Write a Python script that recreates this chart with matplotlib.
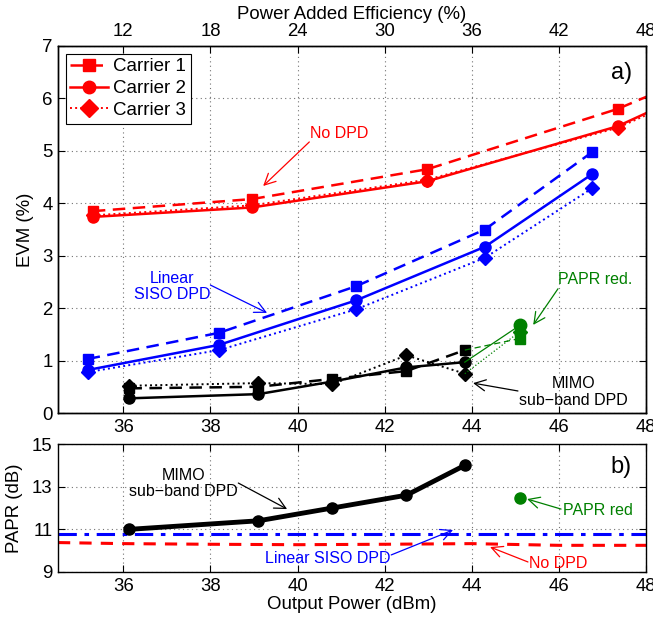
import matplotlib
matplotlib.use("Agg")
import matplotlib.pyplot as plt
from matplotlib.lines import Line2D

plt.rcParams["font.family"] = ["Liberation Sans", "DejaVu Sans"]

# ---- EVM vs output power (top panel) ----
p_nodpd = [35.3, 38.95, 42.98, 47.35, 49.0]
evm_nodpd_c1 = [3.85, 4.08, 4.65, 5.80, 6.38]
evm_nodpd_c2 = [3.74, 3.92, 4.42, 5.47, 6.10]
evm_nodpd_c3 = [3.77, 3.96, 4.45, 5.44, 6.05]

p_siso = [35.18, 38.2, 41.35, 44.3, 46.77]
evm_siso_c1 = [1.03, 1.53, 2.42, 3.50, 4.98]
evm_siso_c2 = [0.82, 1.30, 2.15, 3.17, 4.56]
evm_siso_c3 = [0.78, 1.20, 1.98, 2.96, 4.29]

p_mimo = [36.14, 39.1, 40.8, 42.5, 43.84]
evm_mimo_c1 = [0.47, 0.50, 0.65, 0.80, 1.20]
evm_mimo_c2 = [0.28, 0.36, 0.60, 0.87, 0.97]
evm_mimo_c3 = [0.52, 0.57, 0.55, 1.10, 0.75]

# PAPR reduction point, joined to the last MIMO point
p_papr = [43.84, 45.1]
evm_papr_c1 = [1.20, 1.42]
evm_papr_c2 = [0.97, 1.67]
evm_papr_c3 = [0.75, 1.55]

# ---- PAPR vs output power (bottom panel) ----
papr_mimo = [11.0, 11.4, 12.0, 12.6, 14.0]
p_papr_red = [45.1]
papr_red = [12.45]
p_flat = [34.5, 36, 38, 40, 42, 44, 46, 48]
papr_nodpd = [10.38, 10.33, 10.30, 10.28, 10.30, 10.33, 10.25, 10.25]
papr_siso = [10.8, 10.8, 10.8, 10.8, 10.8, 10.8, 10.8, 10.8]

p_ticks = [36, 38, 40, 42, 44, 46, 48]
pae_ticks = [12, 18, 24, 30, 36, 42, 48]

RED = (1, 0, 0)
BLUE = (0, 0, 1)
GREEN = (0, 0.5, 0)
FS = 13.4
ANN = 11.5

fig = plt.figure(figsize=(6.53, 6.20), dpi=100)
ax = fig.add_axes([58 / 653, 1 - 413 / 620, 588 / 653, 367 / 620])
bx = fig.add_axes([58 / 653, 1 - 572 / 620, 588 / 653, 128 / 620])

lw = 1.8
dash = (0, (5, 3))
for p, c1, c2, c3, col in [(p_nodpd, evm_nodpd_c1, evm_nodpd_c2, evm_nodpd_c3, RED),
                           (p_siso, evm_siso_c1, evm_siso_c2, evm_siso_c3, BLUE),
                           (p_mimo, evm_mimo_c1, evm_mimo_c2, evm_mimo_c3, "k")]:
    ax.plot(p, c3, linestyle=":", color=col, lw=1.4, marker="D", ms=7, mec=col, mfc=col)
    ax.plot(p, c1, linestyle=dash, color=col, lw=lw, marker="s", ms=7, mec=col, mfc=col)
    ax.plot(p, c2, linestyle="-", color=col, lw=lw, marker="o", ms=8, mec=col, mfc=col)

ax.plot(p_papr, evm_papr_c3, linestyle=":", color=GREEN, lw=0.9, marker="D", ms=7,
        mfc=GREEN, mec=GREEN, markevery=[1])
ax.plot(p_papr, evm_papr_c1, linestyle=(0, (5, 3)), color=GREEN, lw=0.9, marker="s", ms=7,
        mfc=GREEN, mec=GREEN, markevery=[1])
ax.plot(p_papr, evm_papr_c2, linestyle="-", color=GREEN, lw=0.9, marker="o", ms=9,
        mfc=GREEN, mec=GREEN, markevery=[1])

ax.set_xlim(34.5, 48)
ax.set_ylim(0, 7)
ax.set_xticks(p_ticks)
ax.set_yticks(range(8))
ax.set_ylabel("EVM (%)", fontsize=FS, labelpad=6)
ax.grid(True, linestyle=(0, (1, 3)), color="0.45", lw=0.8)
ax.tick_params(direction="in", labelsize=FS, right=True, length=5, pad=4)

top = ax.twiny()
top.set_xlim(7.5, 48)
top.set_xticks(pae_ticks)
top.tick_params(direction="in", labelsize=FS, length=5, pad=4)
top.set_xlabel("Power Added Efficiency (%)", fontsize=FS, labelpad=3)

handles = [Line2D([], [], color=RED, linestyle=dash, lw=lw, marker="s", ms=8),
           Line2D([], [], color=RED, linestyle="-", lw=lw, marker="o", ms=9),
           Line2D([], [], color=RED, linestyle=":", lw=1.4, marker="D", ms=9)]
leg = ax.legend(handles, ["Carrier 1", "Carrier 2", "Carrier 3"], loc="upper left",
                fontsize=13.5, frameon=True, fancybox=False, framealpha=1,
                edgecolor="k", handlelength=2.0, borderaxespad=0.4,
                labelspacing=0.25, handletextpad=0.3, borderpad=0.25)
leg.get_frame().set_linewidth(0.8)

arrow = dict(arrowstyle="->", lw=0.9, shrinkA=0, shrinkB=0, mutation_scale=20)
ax.text(40.96, 5.34, "No DPD", color=RED, fontsize=ANN, ha="center", va="center")
ax.annotate("", xy=(39.21, 4.33), xytext=(40.27, 5.17), arrowprops=dict(arrow, color=RED))
ax.text(37.12, 2.42, "Linear\nSISO DPD", color=BLUE, fontsize=ANN, ha="center", va="center",
        linespacing=1.1)
ax.annotate("", xy=(39.3, 1.91), xytext=(38.0, 2.44), arrowprops=dict(arrow, color=BLUE))
ax.text(46.83, 2.54, "PAPR red.", color=GREEN, fontsize=ANN, ha="center", va="center")
ax.annotate("", xy=(45.41, 1.68), xytext=(45.98, 2.37), arrowprops=dict(arrow, color=GREEN))
ax.text(46.33, 0.40, "MIMO\nsub\u2212band DPD", color="k", fontsize=ANN, ha="center",
        va="center", linespacing=1.1)
ax.annotate("", xy=(44.03, 0.57), xytext=(45.06, 0.42), arrowprops=dict(arrow, color="k"))
ax.text(47.45, 6.48, "a)", fontsize=17, ha="center", va="center")

# bottom panel
bx.plot(p_flat, papr_siso, linestyle=(0, (6, 2.5, 1.5, 2.5)), color=BLUE, lw=2.2)
bx.plot(p_flat, papr_nodpd, linestyle=(0, (4, 3)), color=RED, lw=2.2)
bx.plot(p_mimo, papr_mimo, color="k", lw=3.5, marker="o", ms=8)
bx.plot(p_papr_red, papr_red, linestyle="none", color=GREEN, marker="o", ms=8)

bx.set_xlim(34.5, 48)
bx.set_ylim(9, 15)
bx.set_xticks(p_ticks)
bx.set_yticks([9, 11, 13, 15])
bx.set_xlabel("Output Power (dBm)", fontsize=FS, labelpad=1)
bx.set_ylabel("PAPR (dB)", fontsize=FS, labelpad=6)
bx.grid(True, linestyle=(0, (1, 3)), color="0.45", lw=0.8)
bx.tick_params(direction="in", labelsize=FS, right=True, top=True, length=5, pad=4)

bx.text(37.38, 13.13, "MIMO\nsub\u2212band DPD", color="k", fontsize=ANN, ha="center",
        va="center", linespacing=1.1)
bx.annotate("", xy=(39.76, 11.95), xytext=(38.64, 13.17), arrowprops=dict(arrow, color="k"))
bx.text(40.7, 9.61, "Linear SISO DPD", color=BLUE, fontsize=ANN, ha="center", va="center")
bx.annotate("", xy=(43.57, 10.97), xytext=(42.15, 9.80), arrowprops=dict(arrow, color=BLUE))
bx.text(45.98, 9.42, "No DPD", color=RED, fontsize=ANN, ha="center", va="center")
bx.annotate("", xy=(44.42, 10.17), xytext=(45.29, 9.47), arrowprops=dict(arrow, color=RED))
bx.text(46.9, 11.86, "PAPR red", color=GREEN, fontsize=ANN, ha="center", va="center")
bx.annotate("", xy=(45.27, 12.42), xytext=(46.05, 11.95), arrowprops=dict(arrow, color=GREEN))
bx.text(47.43, 13.92, "b)", fontsize=17, ha="center", va="center")

for a in (ax, bx, top):
    for s in a.spines.values():
        s.set_linewidth(1.0)

fig.savefig("out.png", dpi=100)
